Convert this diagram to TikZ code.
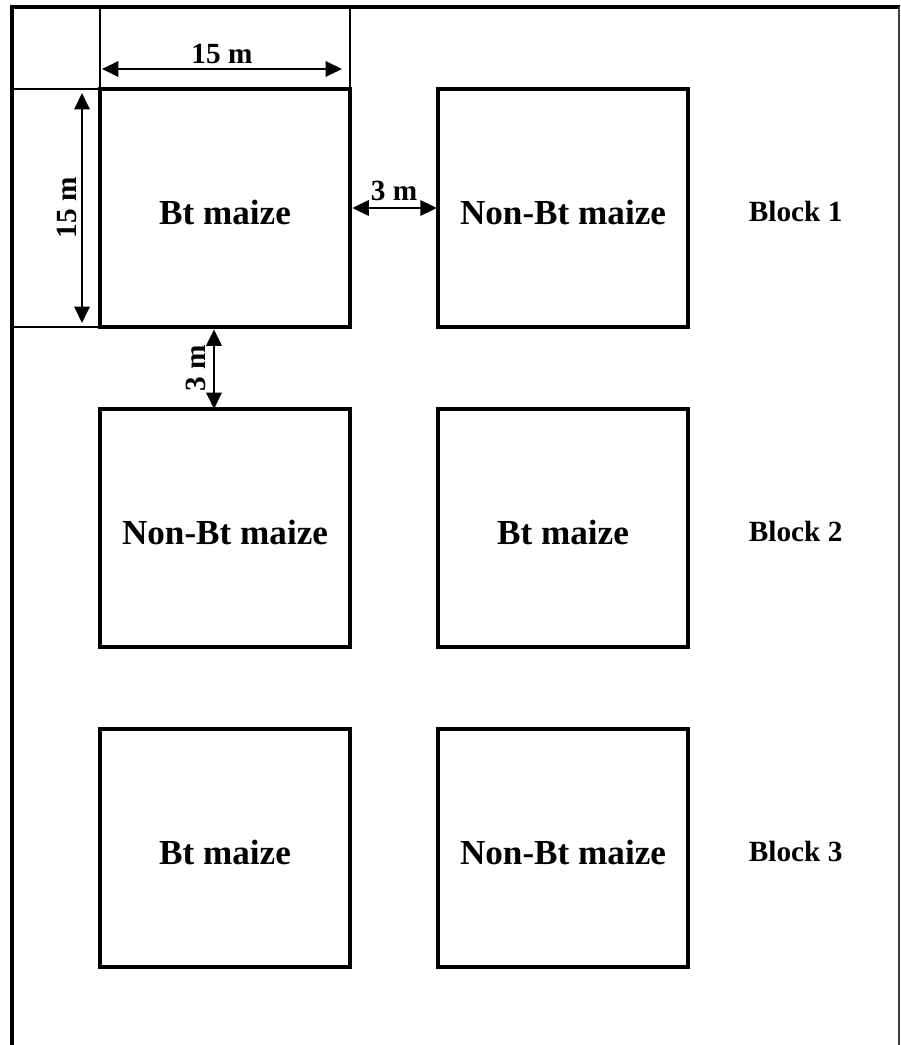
\documentclass[tikz,border=0pt]{standalone}
\usepackage{fontspec}
\setmainfont{Liberation Serif}
\usetikzlibrary{arrows.meta,positioning}

\begin{document}
\begin{tikzpicture}[
    x=0.03cm, y=-0.03cm,
    node distance=2.46cm and 2.64cm,
    plot/.style={draw, line width=2.8pt, minimum width=7.5cm, minimum height=7.14cm,
      inner sep=0pt, outer sep=0pt, text height=28pt, text depth=0pt,
      font=\fontsize{30}{33}\selectfont\bfseries},
    blocklabel/.style={text height=23pt, text depth=0pt,
      font=\fontsize{25}{28}\selectfont\bfseries},
    dim/.style={{Triangle[length=14pt,width=13pt]}-{Triangle[length=14pt,width=13pt]},
      line width=2.2pt},
    dimlabel/.style={font=\fontsize{25}{28}\selectfont\bfseries, inner sep=3pt},
    guide/.style={line width=1.3pt}
  ]
    \useasboundingbox (0,0) rectangle (900,1045);
    % field boundary
    \coordinate (topedge) at (0,7);
    \coordinate (leftedge) at (12,0);
    \draw[line width=3.2pt] (12,1045) -- (12,7) -- (900,7);
    \draw[line width=1.3pt, black!75] (899,7) -- (899,1045);
    % plots
    \node[plot] (bt1) at (225,208) {Bt maize};
    \node[plot, right=of bt1] (nonbt1) {Non-Bt maize};
    \node[plot, below=of bt1] (nonbt2) {Non-Bt maize};
    \node[plot, right=of nonbt2] (bt2) {Bt maize};
    \node[plot, below=of nonbt2] (bt3) {Bt maize};
    \node[plot, right=of bt3] (nonbt3) {Non-Bt maize};
    \node[blocklabel, right=1.7cm of nonbt1] (block1) {Block 1};
    \node[blocklabel, right=1.7cm of bt2] (block2) {Block 2};
    \node[blocklabel, right=1.7cm of nonbt3] (block3) {Block 3};
    % guide lines
    \draw[guide] (bt1.north west) -- (bt1.north west |- topedge);
    \draw[guide] (bt1.north east) -- (bt1.north east |- topedge);
    \draw[guide] (bt1.north west) -- (bt1.north west -| leftedge);
    \draw[guide] (bt1.south west) -- (bt1.south west -| leftedge);
    % dimensions
    \draw[dim] ([shift={(2,-20)}]bt1.north west) -- ([shift={(-8,-20)}]bt1.north east)
      node[midway, above, dimlabel] {15 m};
    \draw[dim] ([shift={(-18,4)}]bt1.north west) -- ([shift={(-18,-4)}]bt1.south west)
      node[midway, above, rotate=90, dimlabel] {15 m};
    \draw[dim, shorten <=2pt, shorten >=1pt] (bt1.east) -- (nonbt1.west)
      node[midway, above=2pt, dimlabel] {3 m};
    \draw[dim, shorten <=2pt] ([shift={(-11,0)}]bt1.south) -- ([shift={(-11,0)}]bt1.south |- nonbt2.north)
      node[midway, rotate=90, anchor=south, dimlabel, inner sep=6pt] {3 m};
  \end{tikzpicture}
\end{document}
